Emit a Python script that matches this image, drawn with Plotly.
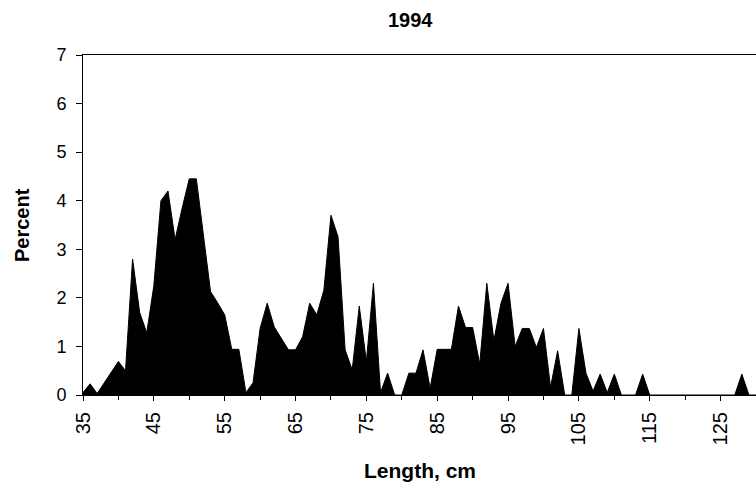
import plotly.graph_objects as go

lengths = list(range(35, 131))
percent = [
    0.05, 0.23, 0.03, 0.25, 0.47, 0.69, 0.50, 2.80, 1.70, 1.28,   # 35-44
    2.25, 4.00, 4.20, 3.20, 3.85, 4.45, 4.45, 3.30, 2.13, 1.90,   # 45-54
    1.65, 0.94, 0.94, 0.05, 0.25, 1.37, 1.89, 1.40, 1.17, 0.93,   # 55-64
    0.93, 1.20, 1.89, 1.65, 2.16, 3.70, 3.26, 0.93, 0.52, 1.83,   # 65-74
    0.69, 2.30, 0.05, 0.45, 0.00, 0.00, 0.45, 0.45, 0.93, 0.14,   # 75-84
    0.94, 0.94, 0.94, 1.83, 1.39, 1.39, 0.64, 2.30, 1.12, 1.89,   # 85-94
    2.30, 1.00, 1.37, 1.37, 0.98, 1.37, 0.16, 0.91, 0.00, 0.00,   # 95-104
    1.37, 0.45, 0.08, 0.43, 0.05, 0.43, 0.00, 0.00, 0.00, 0.43,   # 105-114
    0.00, 0.00, 0.00, 0.00, 0.00, 0.00, 0.00, 0.00, 0.00, 0.00,   # 115-124
    0.00, 0.00, 0.00, 0.43, 0.00, 0.00,                           # 125-130
]
x_ticks = [35, 45, 55, 65, 75, 85, 95, 105, 115, 125]
y_ticks = [0, 1, 2, 3, 4, 5, 6, 7]

FONT = "Liberation Sans, Arial, sans-serif"

fig = go.Figure()
fig.add_trace(go.Scatter(
    x=lengths, y=percent, mode="lines",
    line=dict(color="black", width=1),
    fill="tozeroy", fillcolor="black",
    hoverinfo="x+y",
))

fig.update_layout(
    width=756, height=491,
    margin=dict(l=83, r=0, t=55, b=96),
    paper_bgcolor="white", plot_bgcolor="white",
    showlegend=False,
    font=dict(family=FONT, color="black", size=18),
    annotations=[
        dict(text="<b>1994</b>", x=(410 - 83) / 673, xref="paper", y=1, yref="paper",
             showarrow=False, font=dict(size=20, family=FONT),
             xanchor="center", yanchor="middle", yshift=35),
        dict(text="<b>Length, cm</b>", x=0.5, xref="paper", y=0, yref="paper",
             showarrow=False, font=dict(size=21, family=FONT),
             xanchor="center", yanchor="middle", yshift=-75),
        dict(text="<b>Percent</b>", x=0, xref="paper", y=0.5, yref="paper",
             showarrow=False, font=dict(size=20, family=FONT), textangle=-90,
             xanchor="center", yanchor="middle", xshift=-61),
    ],
)

fig.update_xaxes(
    range=[35, 130], tickmode="array", tickvals=x_ticks,
    ticktext=[str(v) for v in x_ticks], tickangle=-90,
    ticks="outside", ticklen=5, tickcolor="black",
    minor=dict(dtick=5, tick0=35, ticks="outside", ticklen=4, tickcolor="black"),
    showline=True, linecolor="black", linewidth=1, mirror=True,
    showgrid=False, zeroline=False, tickfont=dict(size=20, family=FONT),
    ticklabelstandoff=3,
)
fig.update_yaxes(
    range=[0, 7], tickmode="array", tickvals=y_ticks,
    ticks="outside", ticklen=6, tickcolor="black",
    showline=True, linecolor="black", linewidth=1, mirror=True,
    showgrid=False, zeroline=False, tickfont=dict(size=18, family=FONT),
    ticklabelstandoff=6,
)

fig.write_html("out.html")
